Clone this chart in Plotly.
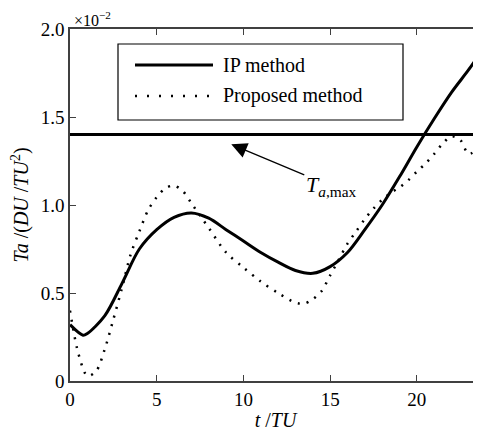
import plotly.graph_objects as go

# ---- data (y in units of 1e-2 DU/TU^2) ----
ip_t = [0, 0.75, 1, 2, 3, 4, 5, 6, 7, 8, 9, 10, 11, 12, 13, 14, 15, 16, 17, 18, 19, 20, 21, 22, 23, 23.7]
ip_y = [0.32, 0.26, 0.27, 0.37, 0.555, 0.75, 0.86, 0.93, 0.955, 0.925, 0.86, 0.795, 0.73, 0.675, 0.628,
        0.612, 0.65, 0.73, 0.86, 1.0, 1.16, 1.33, 1.49, 1.64, 1.77, 1.87]

pm_t = [0, 0.5, 1, 1.5, 2, 2.5, 3, 3.5, 4, 4.5, 5, 5.5, 6, 6.5, 7, 7.5, 8, 9, 10, 11, 12, 13, 13.5, 14,
        14.5, 15, 15.5, 16, 16.5, 17, 17.5, 18, 18.5, 19, 19.5, 20, 20.5, 21, 21.5, 22, 22.5, 23, 23.7]
pm_y = [0.40, 0.15, 0.03, 0.055, 0.18, 0.35, 0.53, 0.72, 0.85, 0.97, 1.045, 1.095, 1.11, 1.08, 1.01, 0.94,
        0.87, 0.73, 0.645, 0.565, 0.50, 0.445, 0.44, 0.465, 0.51, 0.60, 0.69, 0.78, 0.85, 0.92, 0.98, 1.03,
        1.07, 1.10, 1.14, 1.19, 1.235, 1.29, 1.35, 1.39, 1.37, 1.29, 1.34]

ta_max = 1.4
x_range = [0, 23.7]
x_ticks = [0, 5, 10, 15, 20]
y_ticks = [0, 0.5, 1.0, 1.5, 2.0]
y_ticktext = ["0", "0.5", "1.0", "1.5", "2.0"]
legend_names = ["IP method", "Proposed method"]

FONT = "Liberation Serif, Times New Roman, serif"
AX = "#404040"
DOT = "2px,7px"

fig = go.Figure()
fig.add_trace(go.Scatter(x=x_range, y=[ta_max, ta_max], mode="lines",
                         line=dict(color="black", width=3), showlegend=False, hoverinfo="skip"))
fig.add_trace(go.Scatter(x=pm_t, y=pm_y, mode="lines", name=legend_names[1],
                         line=dict(color="black", width=2.5, dash=DOT, shape="spline", smoothing=0.9),
                         showlegend=False))
fig.add_trace(go.Scatter(x=ip_t, y=ip_y, mode="lines", name=legend_names[0],
                         line=dict(color="black", width=3, shape="spline", smoothing=0.9),
                         showlegend=False))

# page offset: the browser body has an 8px margin
OFF = 8
# plot area in page pixels
L, R, T, B = 70, 481, 29, 381
W, H = R - L, B - T
def px(x): return (x - L) / W
def py(y): return (B - y) / H

shapes = [
    dict(type="rect", xref="paper", yref="paper", x0=px(118), x1=px(403), y0=py(120), y1=py(44),
         line=dict(color="black", width=1.2), fillcolor="white", layer="above"),
    dict(type="line", xref="paper", yref="paper", x0=px(135), x1=px(213), y0=py(65), y1=py(65),
         line=dict(color="black", width=3), layer="above"),
    dict(type="line", xref="paper", yref="paper", x0=px(135), x1=px(213), y0=py(96), y1=py(96),
         line=dict(color="black", width=2.5, dash="2px,10px"), layer="above"),
]

annotations = [
    dict(xref="paper", yref="paper", x=px(221), y=py(65), text=legend_names[0], showarrow=False,
         xanchor="left", yanchor="middle", font=dict(family=FONT, size=20, color="black")),
    dict(xref="paper", yref="paper", x=px(221), y=py(96), text=legend_names[1], showarrow=False,
         xanchor="left", yanchor="middle", font=dict(family=FONT, size=20, color="black")),
    dict(xref="paper", yref="paper", x=px(72), y=py(19), text="×10<sup>−2</sup>", showarrow=False,
         xanchor="left", yanchor="middle", font=dict(family=FONT, size=16, color="black")),
    dict(x=9.3, y=1.345, xref="x", yref="y", text="<i>T</i><sub><i>a</i>,max</sub>",
         showarrow=True, arrowhead=2, arrowsize=2.4, arrowwidth=1.3, arrowcolor="black",
         ax=100, ay=42, font=dict(family=FONT, size=22, color="black")),
]

fig.update_layout(
    width=481 - OFF, height=434 - OFF,
    margin=dict(l=L - OFF, r=0, t=T - OFF, b=434 - B, autoexpand=False),
    paper_bgcolor="white", plot_bgcolor="white",
    font=dict(family=FONT, size=18, color="black"),
    shapes=shapes, annotations=annotations,
    xaxis=dict(range=x_range, tickvals=x_ticks, ticks="inside", ticklen=6, tickcolor=AX, tickwidth=1.2,
               showline=True, linecolor=AX, linewidth=1.5, mirror="ticks", showgrid=False, zeroline=False,
               tickfont=dict(family=FONT, size=19), automargin=False,
               title=dict(text="<i>t</i> /<i>TU</i>", font=dict(family=FONT, size=20), standoff=4)),
    yaxis=dict(range=[0, 2], tickvals=y_ticks, ticktext=y_ticktext, ticks="inside", ticklen=6, tickcolor=AX,
               tickwidth=1.2, showline=True, linecolor=AX, linewidth=1.5, showgrid=False, zeroline=False,
               tickfont=dict(family=FONT, size=19), automargin=False,
               title=dict(text="<i>Ta</i> /(<i>DU</i> /<i>TU</i><sup>2</sup>)", font=dict(family=FONT, size=20),
                          standoff=8)),
)

fig.write_html("out.html")
